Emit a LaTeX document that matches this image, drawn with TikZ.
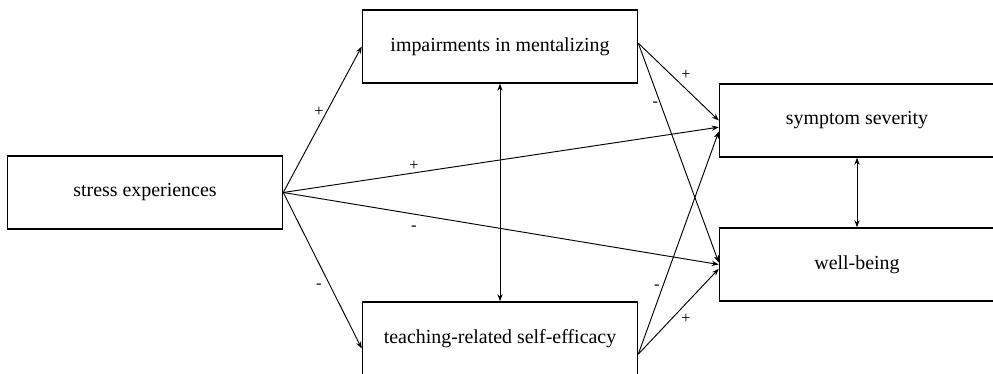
\documentclass[tikz,border=0pt]{standalone}
\usepackage{fontspec}
\setmainfont{Liberation Serif}
\usetikzlibrary{positioning, arrows.meta, calc}

\begin{document}
\begin{tikzpicture}[->, >={Stealth[length=6pt, width=4.5pt]}, x=0.03cm, y=-0.03cm, line width=0.8pt,
    box/.style={draw, rectangle, line width=1.3pt, minimum width=8.25cm, minimum height=2.19cm,
                font=\fontsize{17}{20}\selectfont},
    sign/.style={font=\fontsize{14}{16}\selectfont, inner sep=2pt}]
    \useasboundingbox (0,0) rectangle (993,374);

    % Variables
    \node[box] (stress) at (145,192.5) {stress experiences};
    \node[box] (mental) at (500,46.5) {impairments in mentalizing};
    \node[box] (efficacy) at (500,338.5) {teaching-related self-efficacy};
    \node[box] (symptom) at (857,120.5) {symptom severity};
    \node[box] (wellbeing) at (857,264.5) {well-being};

    % Paths from stress experiences
    \draw (stress.east) -- (mental.west) node[sign, pos=0.55, left] {+};
    \draw (stress.east) -- ([yshift=-0.3cm]efficacy.west) node[sign, pos=0.6, left=5pt] {-};
    \draw (stress.east) -- ([yshift=-0.2cm]symptom.west) node[sign, pos=0.3, above] {+};
    \draw (stress.east) -- (wellbeing.west) node[sign, pos=0.3, below=8pt] {-};

    % Paths from the mediators
    \draw ([yshift=0.1cm]mental.east) -- (symptom.west) node[sign, pos=0.5, above right] {+};
    \draw ([yshift=0.1cm]mental.east) -- ([yshift=0.06cm]wellbeing.west) node[sign, pos=0.28, left] {-};
    \draw ([yshift=-0.47cm]efficacy.east) -- ([yshift=-0.33cm]symptom.west) node[sign, pos=0.3, left] {-};
    \draw ([yshift=-0.47cm]efficacy.east) -- ([yshift=-0.13cm]wellbeing.west) node[sign, pos=0.5, below right] {+};

    % Correlations
    \draw[<->] (mental) -- (efficacy);
    \draw[<->] (symptom) -- (wellbeing);
\end{tikzpicture}
\end{document}
